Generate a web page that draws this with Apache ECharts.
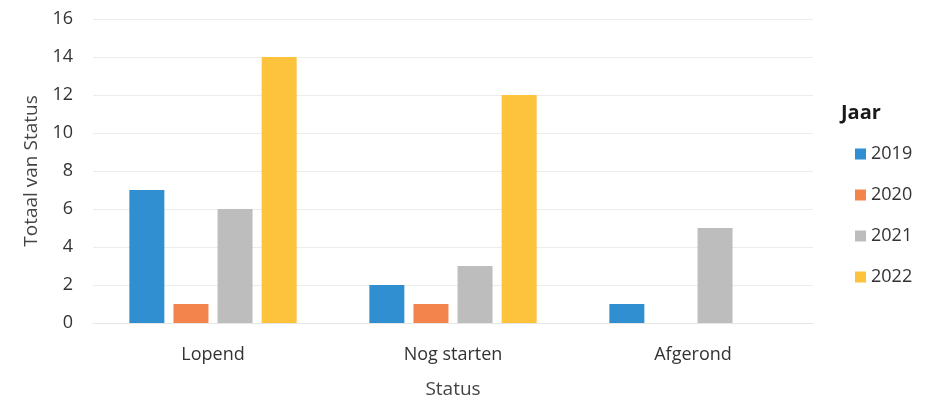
<!DOCTYPE html>
<html><head><meta charset="utf-8">
<script src="https://cdn.jsdelivr.net/npm/echarts@6/dist/echarts.min.js"></script>
<style>html,body{margin:0;padding:0;background:#fff}#c{width:926px;height:401px}</style>
</head><body><div id="c"></div>
<script>
var categories = ['Lopend', 'Nog starten', 'Afgerond'];
var years = ['2019', '2020', '2021', '2022'];
var s2019 = [7, 2, 1];
var s2020 = [1, 1, null];
var s2021 = [6, 3, 5];
var s2022 = [14, 12, null];
var yTicks = [0, 2, 4, 6, 8, 10, 12, 14, 16];
var colors = ['#2f8fd0', '#f3844b', '#bdbdbd', '#fdc33c'];
var seriesData = [s2019, s2020, s2021, s2022];
var font = 'Open Sans';
var chart = echarts.init(document.getElementById('c'));
chart.setOption({
  animation: false,
  textStyle: {fontFamily: font},
  title: {text: 'Jaar', left: 836, top: 98, textStyle: {fontFamily: font, fontSize: 20, fontWeight: 'bold', color: '#1a1a1a'}},
  legend: {
    orient: 'vertical', left: 850, top: 140, itemWidth: 11, itemHeight: 11, itemGap: 23,
    icon: 'rect',
    textStyle: {fontFamily: font, fontSize: 18, color: '#333'},
    data: years
  },
  grid: {left: 93, right: 113, top: 19, bottom: 78, outerBoundsMode: 'none', containLabel: false},
  xAxis: {
    type: 'category', data: categories,
    name: 'Status', nameLocation: 'middle', nameGap: 57,
    nameTextStyle: {fontFamily: font, fontSize: 19, color: '#444'},
    axisLine: {lineStyle: {color: '#e6e6e6'}},
    axisTick: {show: false},
    axisLabel: {fontFamily: font, fontSize: 18, color: '#333', margin: 23}
  },
  yAxis: {
    type: 'value', min: yTicks[0], max: yTicks[yTicks.length - 1], interval: 2,
    name: 'Totaal van Status', nameLocation: 'middle', nameGap: 52,
    nameTextStyle: {fontFamily: font, fontSize: 19, color: '#444'},
    axisLine: {show: false}, axisTick: {show: false},
    axisLabel: {fontFamily: font, fontSize: 18, color: '#333', margin: 20},
    splitLine: {lineStyle: {color: '#ececec'}}
  },
  series: years.map(function (y, i) {
    return {name: y, type: 'bar', data: seriesData[i], barWidth: 35, barGap: '26%',
      itemStyle: {color: colors[i]}};
  })
});
</script></body></html>
